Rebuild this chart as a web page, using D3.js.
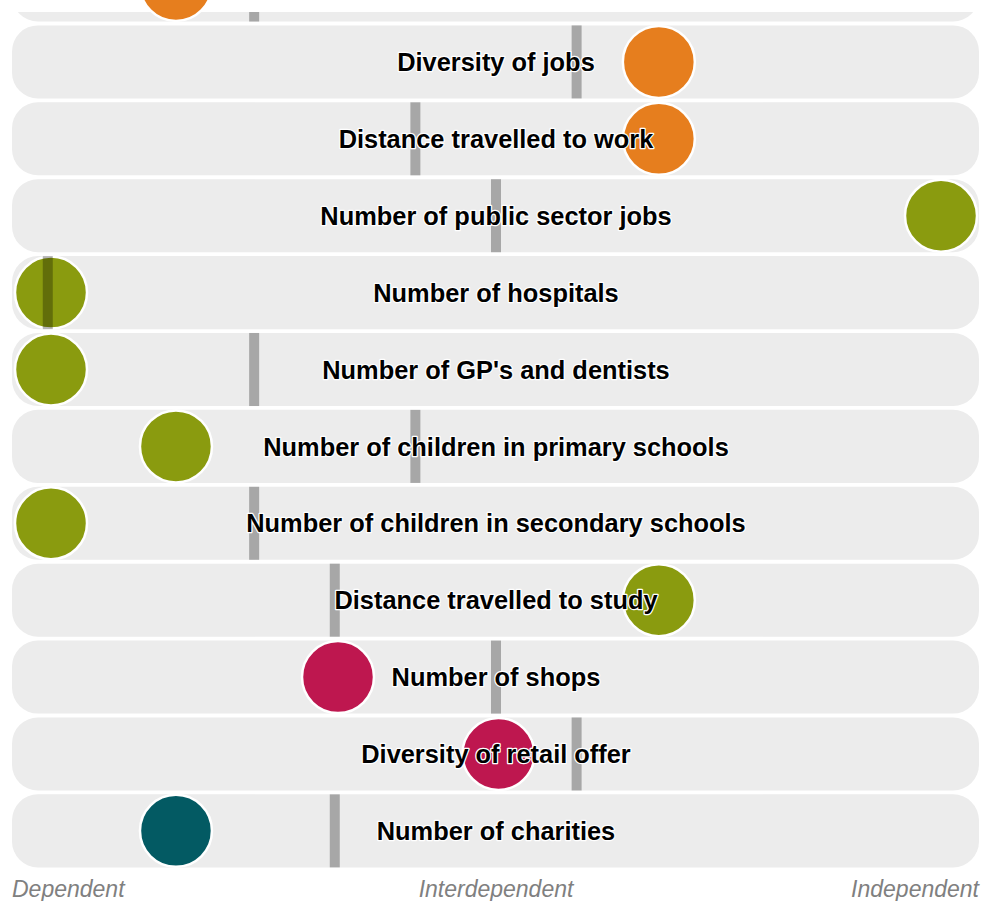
<!DOCTYPE html>
<html><head><meta charset="utf-8">
<script src="https://cdn.jsdelivr.net/npm/d3@7"></script>
<style>
html,body{margin:0;padding:0;background:#fff;}
svg{display:block;}
</style></head>
<body>
<script>
const labels = [
  "Number of jobs",
  "Diversity of jobs",
  "Distance travelled to work",
  "Number of public sector jobs",
  "Number of hospitals",
  "Number of GP's and dentists",
  "Number of children in primary schools",
  "Number of children in secondary schools",
  "Distance travelled to study",
  "Number of shops",
  "Diversity of retail offer",
  "Number of charities"
];
const groups = ["jobs","jobs","jobs","services","services","services","services","services","services","retail","retail","community"];
const scores = [-1.985, 1.01, 1.01, 2.76, -2.76, -2.76, -1.985, -2.76, 1.01, -0.98, 0.015, -1.985];
const benchmarks = [-1.5, 0.5, -0.5, 0, -2.78, -1.5, -0.5, -1.5, -1, 0, 0.5, -1];
const groupNames = ["jobs","services","retail","community"];
const groupColors = ["#e67e1e","#8a9b0f","#be174f","#035a63"];
const axisLabels = ["Dependent","Interdependent","Independent"];

const W = 983, H = 901;
const svg = d3.select("body").append("svg").attr("width", W).attr("height", H);

const rows = labels.map((l,i)=>({label:l, group:groups[i], score:scores[i], bench:benchmarks[i]}));

const y = d3.scaleBand().domain(labels).range([-51.5, 867.4]).paddingInner(0.05).paddingOuter(0);
const x = d3.scaleLinear().domain([-2.76, 2.76]).range([51, 941]);
const color = d3.scaleOrdinal().domain(groupNames).range(groupColors);
const cy = d => y(d.label) + y.bandwidth()/2;

svg.append("defs").append("clipPath").attr("id","clip")
  .append("rect").attr("x",0).attr("y",12).attr("width",W).attr("height",H-12);

const bg = svg.append("g").attr("clip-path","url(#clip)");
bg.selectAll("rect.row").data(rows).join("rect")
  .attr("class","row")
  .attr("x",12).attr("width",967)
  .attr("y",d=>y(d.label)).attr("height",y.bandwidth())
  .attr("rx",26).attr("ry",26)
  .attr("fill","#ececec");

svg.append("g").selectAll("circle").data(rows).join("circle")
  .attr("cx",d=>x(d.score))
  .attr("cy",cy)
  .attr("r",36)
  .attr("fill",d=>color(d.group))
  .attr("stroke","#fff").attr("stroke-width",2.5);

const fg = svg.append("g").attr("clip-path","url(#clip)");
fg.selectAll("rect.bench").data(rows).join("rect")
  .attr("class","bench")
  .attr("x",d=>x(d.bench)-5).attr("width",10)
  .attr("y",d=>y(d.label)).attr("height",y.bandwidth())
  .attr("fill","#000").attr("fill-opacity",0.29);

fg.selectAll("text.lbl").data(rows.filter(d=>cy(d) > 12)).join("text")
  .attr("class","lbl")
  .attr("x",496)
  .attr("y",cy)
  .attr("dy","0.36em")
  .attr("text-anchor","middle")
  .attr("font-family","'Liberation Sans', Arial, sans-serif")
  .attr("font-weight","bold")
  .attr("font-size",25.4)
  .attr("fill","#000")
  .attr("stroke","#fff").attr("stroke-width",2.5)
  .attr("stroke-linejoin","round")
  .attr("paint-order","stroke")
  .text(d=>d.label);

const ax = [[12,"start"],[496,"middle"],[979,"end"]];
svg.append("g").selectAll("text").data(axisLabels).join("text")
  .attr("x",(d,i)=>ax[i][0])
  .attr("y",897)
  .attr("text-anchor",(d,i)=>ax[i][1])
  .attr("font-family","'Liberation Sans', Arial, sans-serif")
  .attr("font-style","italic")
  .attr("font-size",23)
  .attr("fill","#808080")
  .text(d=>d);
</script>
</body></html>
